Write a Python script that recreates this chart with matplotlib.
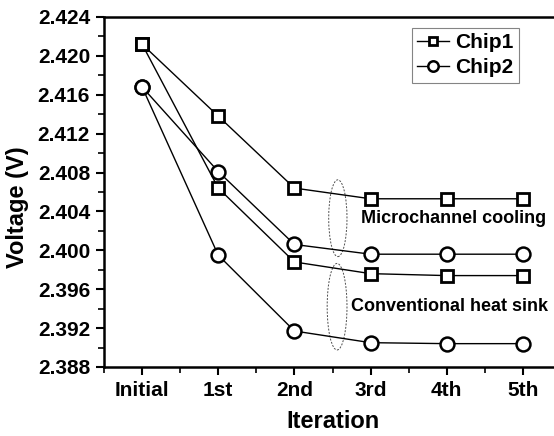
import matplotlib
matplotlib.use('Agg')
import matplotlib.pyplot as plt
from matplotlib.patches import Ellipse
from matplotlib.ticker import MultipleLocator

plt.rcParams['font.family'] = ['Liberation Sans', 'DejaVu Sans']
plt.rcParams['font.weight'] = 'bold'

iterations = ['Initial', '1st', '2nd', '3rd', '4th', '5th']
chip1_micro = [2.4212, 2.4138, 2.4064, 2.4053, 2.4053, 2.4053]
chip1_conv = [2.4212, 2.4064, 2.3988, 2.3976, 2.3974, 2.3974]
chip2_micro = [2.4168, 2.4081, 2.4006, 2.3996, 2.3996, 2.3996]
chip2_conv = [2.4168, 2.3995, 2.3917, 2.3905, 2.3904, 2.3904]

fig = plt.figure(figsize=(5.54, 4.36), dpi=100)
ax = fig.add_axes([0.1877, 0.1583, 0.825, 0.8028])
x = range(len(iterations))

sq = dict(color='black', lw=1.0, marker='s', ms=8, mfc='white', mec='black', mew=2.0)
ci = dict(color='black', lw=1.0, marker='o', ms=10, mfc='white', mec='black', mew=1.8)

ax.plot(x, chip1_micro, label='Chip1', **sq)
ax.plot(x, chip2_micro, label='Chip2', **ci)
ax.plot(x, chip1_conv, **sq)
ax.plot(x, chip2_conv, **ci)

# dashed ellipses grouping the two cooling cases
ax.add_patch(Ellipse((2.57, 2.4033), 0.24, 0.0079, fill=False, ls=(0, (2, 1.5)), lw=0.7, ec='0.3'))
ax.add_patch(Ellipse((2.56, 2.3942), 0.26, 0.0089, fill=False, ls=(0, (2, 1.5)), lw=0.7, ec='0.3'))

ax.text(2.88, 2.4033, 'Microchannel cooling', fontsize=13, fontweight='bold', va='center')
ax.text(2.74, 2.3942, 'Conventional heat sink', fontsize=13, fontweight='bold', va='center')

ax.set_xlim(-0.5, 5.5)
ax.set_ylim(2.388, 2.424)
ax.set_xticks(list(x))
ax.set_xticklabels(iterations)
ax.xaxis.set_minor_locator(MultipleLocator(0.5))
ax.yaxis.set_major_locator(MultipleLocator(0.004))
ax.yaxis.set_minor_locator(MultipleLocator(0.002))
ax.yaxis.set_major_formatter(matplotlib.ticker.FormatStrFormatter('%.3f'))

ax.tick_params(which='major', direction='out', length=6, width=1.5, labelsize=15, pad=4)
ax.tick_params(which='minor', direction='out', length=4, width=1.2)
for lab in ax.get_xticklabels() + ax.get_yticklabels():
    lab.set_fontweight('bold')
for s in ax.spines.values():
    s.set_linewidth(1.8)

ax.set_xlabel('Iteration', fontsize=17, fontweight='bold', labelpad=7)
ax.set_ylabel('Voltage (V)', fontsize=17, fontweight='bold')
ax.yaxis.set_label_coords(-0.165, 0.457)

leg = ax.legend(loc='upper right', bbox_to_anchor=(519 / 554, 1 - 28 / 436), bbox_transform=fig.transFigure,
                fontsize=15, frameon=True, fancybox=False, handlelength=1.55, handletextpad=0.3,
                borderpad=0.25, labelspacing=0.3, borderaxespad=0, markerscale=0.75)
leg.get_frame().set_edgecolor('0.4')
leg.get_frame().set_linewidth(0.8)
for t in leg.get_texts():
    t.set_fontweight('bold')

fig.savefig('out.png', dpi=100)
